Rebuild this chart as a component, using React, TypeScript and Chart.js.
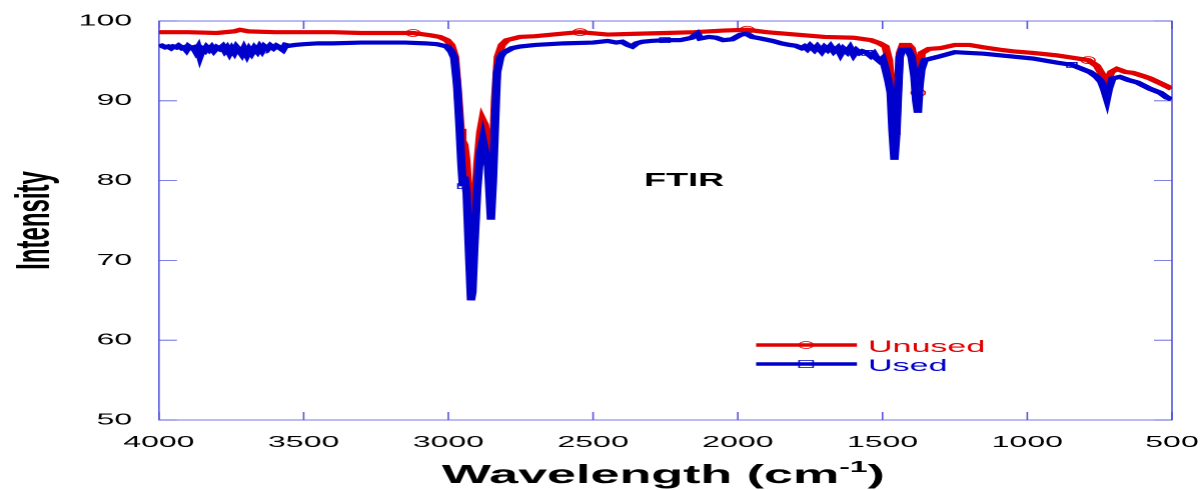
import { useEffect, useRef } from 'react';
import { Chart, registerables } from 'chart.js';

Chart.register(...registerables);

const S = 1201 / 600;
const RED = '#e00000';
const BLUE = '#0000cc';
const FRAME = 'rgb(85,85,221)';
const FONT = '"Liberation Sans", Arial, sans-serif';

const xTickValues = [4000, 3500, 3000, 2500, 2000, 1500, 1000, 500];
const yTickValues = [50, 60, 70, 80, 90, 100];

const unusedWavenumber = [
  4000, 3900, 3800, 3740, 3720, 3690, 3600, 3500, 3400, 3300,
  3200, 3122, 3060, 3030, 3005, 2990, 2977, 2967, 2958, 2952,
  2945, 2938, 2930, 2922, 2917, 2910, 2900, 2890, 2882, 2874,
  2866, 2858, 2851, 2845, 2839, 2829, 2815, 2798, 2753, 2700,
  2580, 2545, 2450, 2350, 2250, 2150, 2050, 1968, 1900, 1800,
  1700, 1600, 1540, 1510, 1490, 1478, 1470, 1462, 1457, 1452,
  1446, 1440, 1430, 1410, 1400, 1390, 1383, 1377, 1372, 1365,
  1340, 1300, 1250, 1200, 1150, 1094, 1050, 980, 900, 863,
  790, 760, 745, 735, 725, 718, 710, 690, 660, 635,
  600, 576, 540, 517, 500,
];
const unusedIntensity = [
  98.6, 98.6, 98.5, 98.7, 98.9, 98.7, 98.6, 98.6, 98.6, 98.5,
  98.5, 98.5, 98.2, 98.0, 97.6, 97.0, 95.5, 91.0, 86.5, 85.0,
  84.5, 82.5, 78.0, 73.5, 72.0, 76.0, 82.0, 86.0, 87.6, 87.0,
  85.0, 81.0, 79.5, 84.0, 90.0, 95.5, 97.0, 97.6, 98.0, 98.1,
  98.5, 98.6, 98.3, 98.4, 98.5, 98.6, 98.8, 98.9, 98.6, 98.3,
  98.0, 97.9, 97.6, 97.2, 96.8, 95.1, 91.8, 87.0, 86.0, 87.5,
  92.5, 96.0, 97.0, 97.0, 96.6, 95.0, 92.0, 91.0, 93.5, 96.0,
  96.5, 96.6, 97.0, 97.0, 96.7, 96.4, 96.2, 96.0, 95.7, 95.5,
  95.1, 94.4, 93.5, 92.9, 92.5, 92.9, 93.6, 94.0, 93.6, 93.5,
  93.1, 92.8, 92.2, 91.8, 91.5,
];
const unusedMarkers = [3122, 2545, 1968, 1377, 790];

const usedWavenumber = [
  4000, 3990, 3978, 3968, 3958, 3950, 3940, 3932, 3920, 3912,
  3905, 3898, 3890, 3880, 3872, 3865, 3858, 3850, 3842, 3835,
  3826, 3818, 3810, 3800, 3790, 3780, 3772, 3765, 3756, 3748,
  3740, 3732, 3722, 3714, 3706, 3696, 3688, 3680, 3670, 3660,
  3652, 3644, 3636, 3625, 3615, 3604, 3594, 3584, 3572, 3562,
  3550, 3530, 3500, 3450, 3400, 3300, 3226, 3150, 3080, 3040,
  3005, 2990, 2980, 2970, 2962, 2955, 2950, 2944, 2937, 2930,
  2922, 2917, 2910, 2900, 2890, 2881, 2872, 2863, 2853, 2846,
  2839, 2832, 2820, 2811, 2780, 2753, 2700, 2600, 2500, 2450,
  2420, 2400, 2380, 2365, 2350, 2330, 2300, 2252, 2200, 2160,
  2140, 2130, 2100, 2075, 2050, 2020, 1990, 1970, 1950, 1920,
  1880, 1850, 1820, 1800, 1780, 1770, 1760, 1750, 1735, 1725,
  1710, 1700, 1690, 1680, 1668, 1655, 1645, 1635, 1622, 1612,
  1600, 1590, 1580, 1570, 1554, 1540, 1530, 1520, 1510, 1500,
  1490, 1480, 1472, 1466, 1459, 1452, 1448, 1441, 1432, 1412,
  1400, 1390, 1384, 1378, 1372, 1366, 1355, 1310, 1250, 1200,
  1150, 1094, 980, 900, 846, 783, 760, 745, 735, 725,
  718, 706, 680, 650, 620, 576, 540, 517, 500,
];
const usedIntensity = [
  96.8, 96.9, 96.7, 96.8, 96.6, 96.8, 96.7, 96.9, 96.6, 96.7,
  96.4, 96.8, 96.6, 96.7, 96.2, 96.6, 95.7, 96.5, 96.3, 96.7,
  96.4, 96.7, 96.3, 96.7, 96.5, 96.8, 96.3, 96.6, 96.0, 96.5,
  96.1, 96.7, 96.3, 95.9, 96.5, 95.8, 96.4, 96.0, 96.6, 96.2,
  96.7, 96.3, 96.8, 96.5, 96.9, 96.6, 96.9, 96.7, 96.4, 97.0,
  96.9, 97.0, 97.1, 97.2, 97.2, 97.3, 97.3, 97.3, 97.2, 97.1,
  96.8, 96.2, 95.4, 92.0, 87.0, 82.0, 79.3, 80.5, 78.5, 72.0,
  65.0, 66.0, 72.0, 79.0, 83.5, 85.1, 83.5, 81.8, 75.1, 80.0,
  86.8, 93.5, 95.5, 96.0, 96.6, 96.8, 97.0, 97.2, 97.3, 97.5,
  97.3, 97.4, 97.0, 96.8, 97.2, 97.4, 97.5, 97.6, 97.6, 97.9,
  98.4, 97.8, 98.0, 97.9, 97.6, 97.7, 98.3, 98.4, 98.0, 97.8,
  97.5, 97.2, 97.0, 96.9, 96.6, 96.8, 96.5, 96.9, 96.4, 96.8,
  96.2, 96.7, 96.4, 96.8, 96.2, 96.6, 95.9, 96.5, 96.1, 96.6,
  95.8, 96.3, 96.0, 96.2, 96.0, 95.6, 95.9, 95.3, 95.0, 95.3,
  94.0, 92.5, 91.0, 86.4, 82.6, 86.0, 89.7, 95.5, 96.4, 96.4,
  95.5, 93.0, 90.0, 88.5, 92.0, 93.9, 95.1, 95.5, 96.1, 96.0,
  95.9, 95.7, 95.3, 94.8, 94.5, 93.6, 93.0, 92.4, 91.5, 90.3,
  91.5, 92.8, 93.0, 92.6, 92.3, 91.5, 91.0, 90.4, 90.2,
];
const usedMarkers = [3644, 2950, 2252, 1554, 846];

const legendLabels = ['Unused', 'Used'];
const annotationText = 'FTIR';

const decorPlugin = {
  id: 'decor',
  beforeDatasetsDraw(chart: any) {
    const { ctx, chartArea: a, scales } = chart;
    const x = scales.x;
    const y = scales.y;
    ctx.save();
    ctx.strokeStyle = FRAME;
    ctx.lineWidth = 0.8;
    ctx.strokeRect(a.left, a.top, a.right - a.left, a.bottom - a.top);
    ctx.beginPath();
    for (const v of xTickValues) {
      const px = x.getPixelForValue(v);
      ctx.moveTo(px, a.bottom);
      ctx.lineTo(px, a.bottom - 8);
      ctx.moveTo(px, a.top);
      ctx.lineTo(px, a.top + 8);
    }
    for (const v of yTickValues) {
      const py = y.getPixelForValue(v);
      ctx.moveTo(a.left, py);
      ctx.lineTo(a.left + 9, py);
      ctx.moveTo(a.right, py);
      ctx.lineTo(a.right - 9, py);
    }
    ctx.stroke();
    ctx.restore();
  },
  afterDatasetsDraw(chart: any) {
    const { ctx, chartArea: a, scales } = chart;
    const x = scales.x;
    const y = scales.y;
    ctx.save();
    ctx.fillStyle = '#000';
    // y title
    ctx.save();
    ctx.translate(24.5, (a.top + a.bottom) / 2);
    ctx.rotate(-Math.PI / 2);
    ctx.font = `bold 24px ${FONT}`;
    ctx.textAlign = 'center';
    ctx.textBaseline = 'alphabetic';
    ctx.fillText('Intensity', 0, 0);
    ctx.restore();
    // x title with superscript
    const main = 'Wavelength (cm';
    const sup = '-1';
    const close = ')';
    ctx.textBaseline = 'alphabetic';
    ctx.textAlign = 'left';
    ctx.font = `bold 26px ${FONT}`;
    const w1 = ctx.measureText(main).width;
    const w3 = ctx.measureText(close).width;
    ctx.font = `bold 16px ${FONT}`;
    const w2 = ctx.measureText(sup).width;
    const cx = (a.left + a.right) / 2 - 1;
    let sx = cx - (w1 + w2 + w3) / 2;
    ctx.font = `bold 26px ${FONT}`;
    ctx.fillText(main, sx, 483);
    sx += w1;
    ctx.font = `bold 16px ${FONT}`;
    ctx.fillText(sup, sx, 472);
    sx += w2;
    ctx.font = `bold 26px ${FONT}`;
    ctx.fillText(close, sx, 483);
    // annotation
    ctx.font = `bold 18px ${FONT}`;
    ctx.textAlign = 'center';
    ctx.fillText(annotationText, x.getPixelForValue(2186), y.getPixelForValue(80) + 5.5);
    // legend
    const entries = [
      { label: legendLabels[0], color: RED, yy: 345, style: 'circle' },
      { label: legendLabels[1], color: BLUE, yy: 364, style: 'rect' },
    ];
    for (const e of entries) {
      ctx.strokeStyle = e.color;
      ctx.lineWidth = 3.5;
      ctx.beginPath();
      ctx.moveTo(377.7, e.yy);
      ctx.lineTo(428.1, e.yy);
      ctx.stroke();
      ctx.lineWidth = 0.8;
      ctx.beginPath();
      if (e.style === 'circle') {
        ctx.arc(402.7, e.yy, 3.5, 0, Math.PI * 2);
      } else {
        ctx.rect(402.7 - 3.5, e.yy - 3.5, 7, 7);
      }
      ctx.stroke();
      ctx.fillStyle = e.color;
      ctx.font = `17px ${FONT}`;
      ctx.textAlign = 'left';
      ctx.fillText(e.label, 433.6, e.yy + 7);
    }
    ctx.restore();
  },
};

export default function App() {
  const ref = useRef<HTMLCanvasElement>(null);
  useEffect(() => {
    const mk = (list: number[]) => (c: any) => (c.raw && list.includes(c.raw.x) ? 3.5 : 0);
    const chart = new Chart(ref.current as HTMLCanvasElement, {
      type: 'line',
      data: {
        datasets: [
          {
            label: legendLabels[0],
            data: unusedWavenumber.map((w, i) => ({ x: w, y: unusedIntensity[i] })),
            borderColor: RED,
            backgroundColor: RED,
            borderWidth: 4.2,
            tension: 0,
            pointStyle: 'circle',
            pointRadius: mk(unusedMarkers),
            pointBorderColor: RED,
            pointBackgroundColor: 'rgba(0,0,0,0)',
            pointBorderWidth: 0.8,
            order: 2,
          },
          {
            label: legendLabels[1],
            data: usedWavenumber.map((w, i) => ({ x: w, y: usedIntensity[i] })),
            borderColor: BLUE,
            backgroundColor: BLUE,
            borderWidth: 4.2,
            tension: 0,
            pointStyle: 'rect',
            pointRadius: mk(usedMarkers),
            pointBorderColor: BLUE,
            pointBackgroundColor: 'rgba(0,0,0,0)',
            pointBorderWidth: 0.8,
            order: 1,
          },
        ],
      },
      options: {
        animation: false,
        responsive: true,
        maintainAspectRatio: false,
        devicePixelRatio: 2,
        events: [],
        layout: { padding: { top: 21, right: 14.5, left: 0, bottom: 0 } },
        plugins: {
          legend: { display: false },
          tooltip: { enabled: false },
          title: { display: false },
        },
        scales: {
          x: {
            type: 'linear',
            reverse: true,
            min: 500,
            max: 4000,
            grid: { display: false, drawTicks: false },
            border: { display: false },
            afterBuildTicks: (s: any) => {
              s.ticks = xTickValues.map((v) => ({ value: v }));
            },
            afterFit: (s: any) => {
              s.height = 70;
              s.paddingLeft = 0;
              s.paddingRight = 0;
            },
            ticks: {
              color: '#000',
              font: { family: FONT, size: 16 },
              padding: 13,
              maxRotation: 0,
              autoSkip: false,
              callback: (v: any) => String(v),
            },
          },
          y: {
            type: 'linear',
            min: 50,
            max: 100,
            grid: { display: false, drawTicks: false },
            border: { display: false },
            afterBuildTicks: (s: any) => {
              s.ticks = yTickValues.map((v) => ({ value: v }));
            },
            afterFit: (s: any) => {
              s.width = 79.4;
              s.paddingTop = 0;
              s.paddingBottom = 0;
            },
            ticks: {
              color: '#000',
              font: { family: FONT, size: 16 },
              padding: 13.4,
              autoSkip: false,
              callback: (v: any) => String(v),
            },
          },
        },
      },
      plugins: [decorPlugin],
    } as any);
    return () => chart.destroy();
  }, []);
  return (
    <div
      style={{
        position: 'absolute',
        left: 0,
        top: 0,
        width: 600,
        height: 490,
        transform: `scaleX(${S})`,
        transformOrigin: '0 0',
      }}
    >
      <canvas ref={ref} />
    </div>
  );
}
